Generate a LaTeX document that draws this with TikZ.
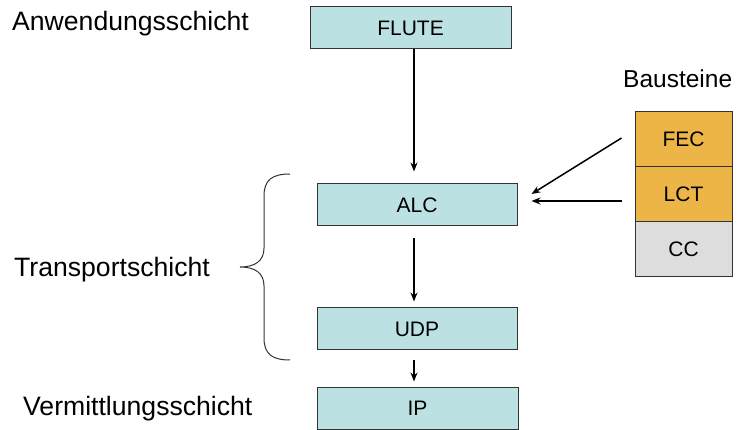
\documentclass[tikz,border=0pt]{standalone}
\usepackage{fontspec}
\setmainfont{Liberation Sans}
\usetikzlibrary{arrows.meta}
\definecolor{boxcyan}{HTML}{BCE1E3}
\definecolor{boxorange}{HTML}{EDB547}
\definecolor{boxgray}{HTML}{DDDDDD}
\definecolor{boxline}{HTML}{333333}
\tikzset{
  layerbox/.style={draw=boxline, line width=1pt, fill=boxcyan, minimum width=200pt, minimum height=42pt, inner sep=0pt, font=\fontsize{21}{25}\selectfont},
  blockbox/.style={draw=boxline, line width=1pt, minimum width=97pt, minimum height=55pt, inner sep=0pt, font=\fontsize{21}{25}\selectfont},
  lbl/.style={anchor=west, inner sep=0pt, font=\fontsize{26.6}{31}\selectfont},
  arr/.style={line width=1.5pt, -{Stealth[length=9pt,width=7pt]}}
}
\begin{document}
\begin{tikzpicture}[x=1pt,y=-1pt]
\useasboundingbox (0,0) rectangle (742,430);
\node[layerbox, minimum width=201pt] (FLUTE) at (410.5,28) {FLUTE};
\node[layerbox] (ALC) at (417,205) {ALC};
\node[layerbox] (UDP) at (417,329) {UDP};
\node[layerbox, minimum width=201pt, minimum height=41pt] (IP) at (417.5,408.5) {IP};
\node[blockbox, fill=boxorange] (FEC) at (683.5,139.5) {FEC};
\node[blockbox, fill=boxorange] (LCT) at (683.5,194.5) {LCT};
\node[blockbox, fill=boxgray] (CC) at (683.5,249.5) {CC};
\node[lbl] (anw) at (12,24) {Anwendungsschicht};
\node[lbl] (trans) at (14,270) {Transportschicht};
\node[lbl] (verm) at (23,409) {Vermittlungsschicht};
\node[lbl, font=\fontsize{24.5}{29}\selectfont] (baus) at (623,79) {Bausteine};
\draw[arr] ([xshift=3.5pt]FLUTE.south) -- ([xshift=-3pt,yshift=12pt]ALC.north);
\draw[arr] ([xshift=-3pt,yshift=-12pt]ALC.south) -- ([xshift=-3pt,yshift=6pt]UDP.north);
\draw[arr] ([xshift=-3pt,yshift=-10pt]UDP.south) -- ([xshift=-3.5pt,yshift=6pt]IP.north);
\draw[arr] ([xshift=-13pt,yshift=1.5pt]FEC.west) -- ([xshift=14pt,yshift=11pt]ALC.east);
\draw[arr] ([xshift=-13pt,yshift=-6.5pt]LCT.west) -- ([xshift=14pt,yshift=4pt]ALC.east);
\draw[line width=1pt, boxline] (290,174) .. controls (272,174) and (264,180) .. (264,196) -- (264,248) .. controls (264,261) and (255,267) .. (240,267) .. controls (255,267) and (264,273) .. (264,286) -- (264,338) .. controls (264,354) and (272,360) .. (290,360);
\end{tikzpicture}
\end{document}
